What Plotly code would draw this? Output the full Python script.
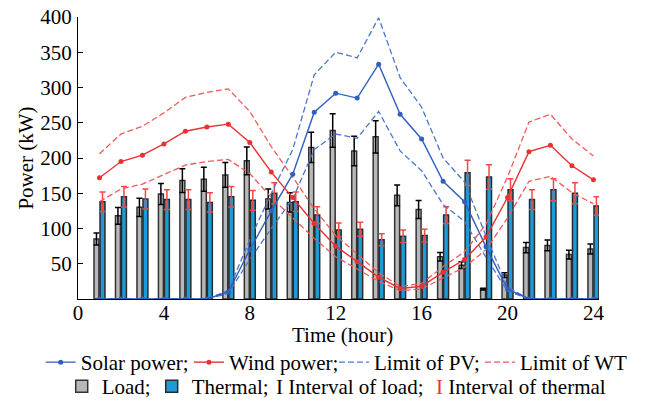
import plotly.graph_objects as go

hours = list(range(1, 25))

solar = [0, 0, 0, 0, 0, 0, 10, 70, 125, 177, 265, 292, 285, 333, 262, 227, 167, 138, 74, 14, 0, 0, 0, 0]
pv_upper = [0, 0, 0, 0, 0, 0, 12, 84, 150, 212, 318, 350, 342, 399, 314, 272, 200, 166, 89, 17, 0, 0, 0, 0]
pv_lower = [0, 0, 0, 0, 0, 0, 8, 56, 100, 142, 212, 234, 228, 266, 210, 182, 134, 110, 59, 11, 0, 0, 0, 0]

wind = [172, 195, 204, 220, 238, 244, 248, 222, 180, 144, 107, 75, 53, 31, 15, 18, 38, 56, 88, 144, 209, 218, 189, 169]
wt_upper = [206, 234, 245, 264, 286, 293, 298, 266, 216, 173, 128, 90, 64, 37, 18, 22, 46, 67, 106, 173, 251, 262, 227, 203]
wt_lower = [138, 156, 163, 176, 190, 195, 198, 178, 144, 115, 86, 60, 42, 25, 12, 14, 30, 45, 70, 115, 167, 174, 151, 135]

load = [85, 118, 130, 149, 168, 170, 176, 196, 142, 137, 215, 239, 210, 230, 147, 127, 60, 48, 14, 34, 73, 76, 63, 71]
load_err = [8.5, 11.8, 13, 14.9, 16.8, 17, 17.6, 19.6, 14.2, 13.7, 21.5, 23.9, 21, 23, 14.7, 12.7, 6, 4.8, 1.4, 3.4, 7.3, 7.6, 6.3, 7.1]
thermal = [138, 145, 142, 141, 141, 137, 145, 140, 150, 138, 119, 98, 99, 84, 89, 90, 119, 179, 173, 155, 141, 155, 150, 132]
thermal_err = [13.8, 14.5, 14.2, 14.1, 14.1, 13.7, 14.5, 14, 15, 13.8, 11.9, 9.8, 9.9, 8.4, 8.9, 9, 11.9, 17.9, 17.3, 15.5, 14.1, 15.5, 15, 13.2]

x_ticks = [0, 4, 8, 12, 16, 20, 24]
y_ticks = [50, 100, 150, 200, 250, 300, 350, 400]
x_title = "Time (hour)"
y_title = "Power (kW)"

FONT = "Liberation Serif, Times New Roman, serif"
FS = 21
BLUE = "#2f5fbf"
BLUE_D = "#4a78cc"
RED = "#e83232"
RED_D = "#f05a5a"

fig = go.Figure()

fig.add_trace(go.Bar(x=hours, y=load, name="Load;", legend="legend5",
                     marker=dict(color="#b8b8b8", line=dict(color="#333333", width=1.5)),
                     error_y=dict(type="data", array=load_err, color="black", thickness=1.5, width=3)))
fig.add_trace(go.Bar(x=hours, y=thermal, name="Thermal;", legend="legend6",
                     marker=dict(color="#1e9ad6", line=dict(color="#2a2a2a", width=1.5)),
                     error_y=dict(type="data", array=thermal_err, color="#f04848", thickness=1.5, width=3)))

fig.add_trace(go.Scatter(x=hours, y=pv_upper, mode="lines", name="Limit of PV;", legend="legend3",
                         line=dict(color=BLUE_D, width=1.3, dash="6px,3px")))
fig.add_trace(go.Scatter(x=hours, y=pv_lower, mode="lines", showlegend=False,
                         line=dict(color=BLUE_D, width=1.3, dash="6px,3px")))
fig.add_trace(go.Scatter(x=hours, y=wt_upper, mode="lines", name="Limit of WT", legend="legend4",
                         line=dict(color=RED_D, width=1.3, dash="6px,3px")))
fig.add_trace(go.Scatter(x=hours, y=wt_lower, mode="lines", showlegend=False,
                         line=dict(color=RED_D, width=1.3, dash="6px,3px")))
fig.add_trace(go.Scatter(x=hours, y=solar, mode="lines+markers", name="Solar power;", legend="legend",
                         line=dict(color=BLUE, width=1.4), marker=dict(size=5, color=BLUE)))
fig.add_trace(go.Scatter(x=hours, y=wind, mode="lines+markers", name="Wind power;", legend="legend2",
                         line=dict(color=RED, width=1.4), marker=dict(size=5, color=RED)))

# legend-only entries for the intervals
fig.add_trace(go.Scatter(x=[None], y=[None], mode="markers", legend="legend7",
                         name="<span style='color:black'>I</span> Interval of load;",
                         marker=dict(size=1, opacity=0)))
fig.add_trace(go.Scatter(x=[None], y=[None], mode="markers", legend="legend8",
                         name="<span style='color:#e83232'>I</span> Interval of thermal",
                         marker=dict(size=1, opacity=0)))

W, H = 647, 402
row1_y = 1 - 362.5 / H
row2_y = 1 - 386.5 / H
# text start positions (px) of each legend entry
leg_pos = {
    "legend": (80.7, row1_y), "legend2": (229, row1_y), "legend3": (374, row1_y), "legend4": (520, row1_y),
    "legend5": (101.7, row2_y), "legend6": (191.7, row2_y), "legend7": (276, row2_y), "legend8": (436, row2_y),
}
leg_layout = {}
for key, (px, yy) in leg_pos.items():
    leg_layout[key] = dict(x=(px - 40) / W, y=yy, xref="container", yref="container",
                           xanchor="left", yanchor="middle", orientation="h",
                           bgcolor="rgba(0,0,0,0)", borderwidth=0,
                           font=dict(family=FONT, size=FS, color="black"))

fig.update_layout(
    width=W, height=H,
    margin=dict(l=78, r=48, t=17, b=103, autoexpand=False),
    paper_bgcolor="white", plot_bgcolor="white",
    barmode="group", bargap=0.44, bargroupgap=0.18,
    font=dict(family=FONT, size=FS, color="black"),
    xaxis=dict(range=[0, 24.26], tickvals=x_ticks, ticktext=[str(v) for v in x_ticks],
               showgrid=False, zeroline=False, showline=True, linecolor="black", linewidth=1,
               ticks="", ticklabelstandoff=-5,
               tickfont=dict(family=FONT, size=FS)),
    yaxis=dict(range=[0, 400], tickvals=y_ticks, ticktext=[str(v) for v in y_ticks],
               showgrid=False, zeroline=False, showline=True, linecolor="black", linewidth=1,
               ticks="inside", ticklen=5, tickcolor="black", ticklabelstandoff=1,
               title=dict(text=y_title, standoff=0, font=dict(family=FONT, size=FS)),
               tickfont=dict(family=FONT, size=FS)),
    annotations=[dict(text=x_title, xref="paper", yref="paper", x=0.508, y=0,
                      xanchor="center", yanchor="middle", yshift=-36, showarrow=False,
                      font=dict(family=FONT, size=FS, color="black"))],
    **leg_layout,
)

fig.write_html("out.html", config={"displayModeBar": False},
               post_script="document.body.style.margin='0px';")
